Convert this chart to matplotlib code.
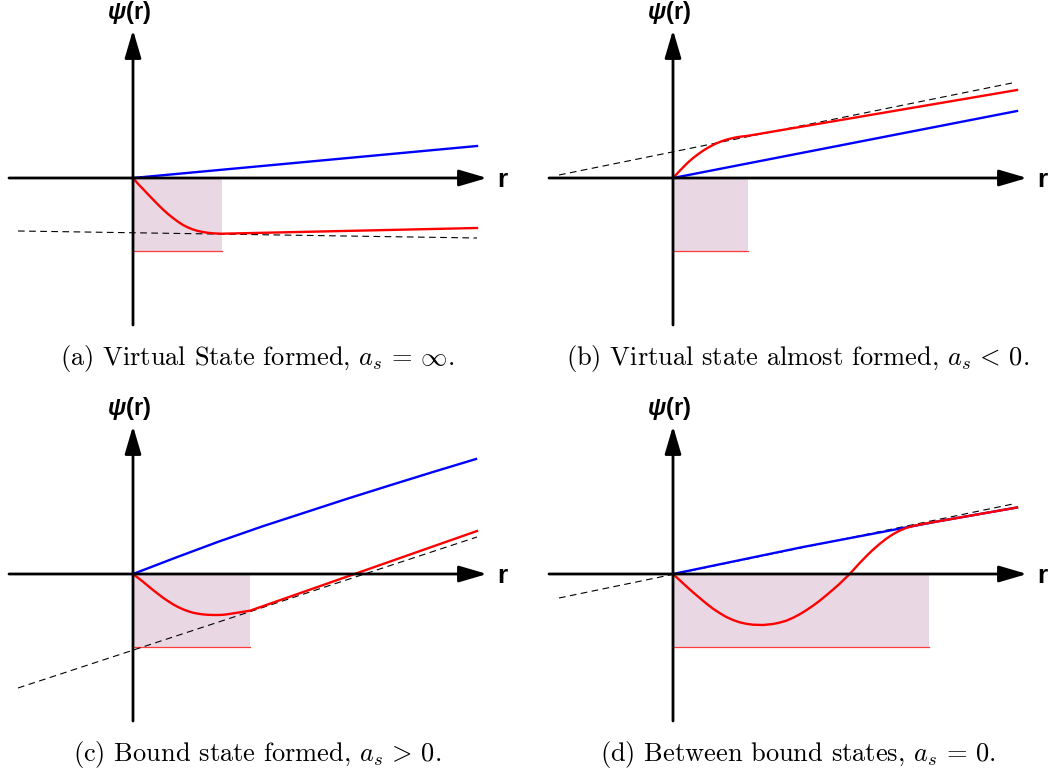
import numpy as np
import matplotlib
matplotlib.use("Agg")
import matplotlib.pyplot as plt
from matplotlib.patches import Rectangle

plt.rcParams['mathtext.fontset'] = 'cm'
plt.rcParams['mathtext.bf'] = 'Liberation Sans:bold'
plt.rcParams['mathtext.bfit'] = 'Liberation Sans:italic:bold'

# Schematic wavefunctions, local units (pixels from the axis origin, y up)
# (a) virtual state formed
a_blue_x = [0, 344]
a_blue_y = [0, 32]
a_red_x = [0, 5, 10, 15, 20, 25, 30, 35, 40, 45, 50, 55, 60, 65, 70, 75, 80, 85, 89, 344]
a_red_y = [0, -5.8, -11, -16.3, -21.5, -26.6, -31.5, -36, -40, -43.7, -47, -49.5, -51.5,
           -53, -54, -54.8, -55.3, -55.6, -55.7, -50]
a_dash_x = [-115, 344]
a_dash_y = [-53, -60]
a_well = 89

# (b) virtual state almost formed
b_blue_x = [0, 344]
b_blue_y = [0, 67]
b_red_x = [0, 4, 8, 12, 16, 20, 24, 28, 32, 36, 40, 44, 48, 52, 56, 60, 64, 68, 75, 344]
b_red_y = [0, 4.3, 8.5, 12.6, 16.5, 19.9, 23, 25.9, 28.5, 30.9, 33, 34.9, 36.5, 37.9,
           39, 40, 40.8, 41.4, 42.2, 88]
b_dash_x = [-114, 339]
b_dash_y = [3, 95]
b_well = 75

# (c) bound state formed
c_blue_x = [0, 43, 86, 129, 172, 215, 258, 301, 343]
c_blue_y = [0, 16.5, 32.5, 47.5, 61.5, 75.5, 89, 102.3, 115]
c_red_x = [0, 5, 10, 15, 20, 25, 30, 35, 40, 45, 50, 55, 60, 65, 70, 75, 80, 85, 90, 95,
           100, 105, 110, 117, 344]
c_red_y = [0, -3.8, -7.7, -11.9, -16, -19.9, -23.7, -27.1, -30.3, -33, -35.3, -37.2, -38.7,
           -39.7, -40.4, -40.8, -41, -41, -40.8, -40.2, -39.4, -38.6, -37.8, -36.7, 43]
c_dash_x = [-115, 344]
c_dash_y = [-114, 37]
c_well = 117

# (d) between bound states
d_blue_x = [0, 130, 267, 344]
d_blue_y = [0, 27, 53, 66.5]
d_red_x = [0, 6.7, 13.3, 20, 26.7, 33.3, 40, 46.7, 53.3, 60, 66.7, 73.3, 80, 90, 100,
           106.7, 113.3, 120, 126.7, 133.3, 140, 146.7, 153.3, 160, 166.7, 176.7, 186.7,
           193.3, 200, 206.7, 213.3, 220, 226.7, 233.3, 240, 246.7, 253.3, 260, 267, 344]
d_red_y = [0, -6.2, -12.3, -18.3, -24, -29.5, -34.7, -39.1, -43, -46, -48.3, -49.8, -50.7,
           -51, -50, -48.6, -46.7, -43.8, -40.3, -36.2, -31.7, -26.7, -21.3, -15.6, -9.7,
           0, 11, 17.8, 24.3, 30.1, 35.3, 39.8, 43.4, 46.1, 48, 49.4, 50.6, 51.8, 53, 66.5]
d_dash_x = [-114, 340]
d_dash_y = [-24, 70]
d_well = 256

well_depth = 73

captions = [
    r'(a) Virtual State formed, $a_s\,=\,\infty$.',
    r'(b) Virtual state almost formed, $a_s\,<\,0$.',
    r'(c) Bound state formed, $a_s\,>\,0$.',
    r'(d) Between bound states, $a_s\,=\,0$.',
]

panels = [
    (a_blue_x, a_blue_y, a_red_x, a_red_y, a_dash_x, a_dash_y, a_well),
    (b_blue_x, b_blue_y, b_red_x, b_red_y, b_dash_x, b_dash_y, b_well),
    (c_blue_x, c_blue_y, c_red_x, c_red_y, c_dash_x, c_dash_y, c_well),
    (d_blue_x, d_blue_y, d_red_x, d_red_y, d_dash_x, d_dash_y, d_well),
]

W, H = 1050, 773
fig = plt.figure(figsize=(W / 100, H / 100), dpi=100)

# panel cells (pixels) and axis origins inside them
cells = [(0, 0), (525, 0), (0, 386.5), (525, 386.5)]
origins = [(133, 178), (673, 178), (133, 574), (673, 574)]
cw, ch = 525, 386.5

for i, (bx, by, rx, ry, dx, dy, well) in enumerate(panels):
    cx, cy = cells[i]
    ox, oy = origins[i]
    ax = fig.add_axes([cx / W, 1 - (cy + ch) / H, cw / W, ch / H])
    ax.set_xlim(cx - ox, cx + cw - ox)
    ax.set_ylim(oy - (cy + ch), oy - cy)
    ax.axis('off')

    # potential well
    ax.add_patch(Rectangle((0, -well_depth), well, well_depth, facecolor='#e9d8e3',
                           edgecolor='none', zorder=1))
    ax.plot([0, well], [-well_depth, -well_depth], color='#ff3b3b', lw=0.9, zorder=2)

    ax.plot(dx, dy, color='k', lw=0.8, ls=(0, (6, 4)), zorder=3)
    ax.plot(bx, by, color='#0000ff', lw=1.7, zorder=4, solid_joinstyle='round')
    ax.plot(rx, ry, color='#ff0000', lw=1.7, zorder=4, solid_joinstyle='round')

    # axes with arrows
    arr = dict(arrowstyle='-|>,head_length=0.85,head_width=0.25', lw=2, color='k',
               mutation_scale=20, shrinkA=0, shrinkB=0)
    ax.annotate('', xy=(354, 0), xytext=(-124, 0), arrowprops=arr, zorder=5)
    ax.annotate('', xy=(0, 148), xytext=(0, -147), arrowprops=arr, zorder=5)

    ax.text(369, -9, 'r', fontsize=19, fontweight='bold', family='Liberation Sans',
            ha='center', va='baseline', clip_on=False)
    ax.text(-4, 159, r'$\mathbfit{\psi}\mathbf{(r)}$', fontsize=17, math_fontfamily='custom',
            ha='center', va='baseline', clip_on=False)
    ax.text(124.5, -187, captions[i], fontsize=19, family='cmr10',
            ha='center', va='baseline', clip_on=False)

fig.savefig('out.png', dpi=100)
